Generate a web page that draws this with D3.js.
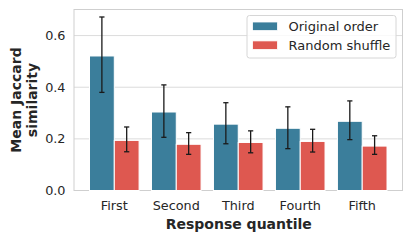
<!DOCTYPE html>
<html>
<head>
<meta charset="utf-8">
<script src="https://cdn.jsdelivr.net/npm/d3@7"></script>
<style>
  body { margin: 0; background: #fff; }
  text { font-family: "DejaVu Sans", sans-serif; fill: #262626; }
</style>
</head>
<body>
<svg id="chart" width="412" height="241"></svg>
<script>
// data
const quantiles = ['First', 'Second', 'Third', 'Fourth', 'Fifth'];
const seriesNames = ['Original order', 'Random shuffle'];
const originalMean = [0.521, 0.304, 0.257, 0.241, 0.268];
const originalLow = [0.380, 0.206, 0.181, 0.162, 0.197];
const originalHigh = [0.672, 0.409, 0.340, 0.324, 0.347];
const shuffleMean = [0.194, 0.179, 0.186, 0.190, 0.172];
const shuffleLow = [0.150, 0.140, 0.146, 0.149, 0.140];
const shuffleHigh = [0.246, 0.224, 0.231, 0.237, 0.212];
const yTicks = [0.0, 0.2, 0.4, 0.6];

const colors = ['#3b7e9b', '#de5850'];

const svg = d3.select('#chart');
const plotLeft = 74, plotRight = 402.5, plotTop = 9.5, plotBottom = 190.5;
const tickFont = 12.8, labelFont = 14;

// x: seaborn-like positions with some padding on each side
const xPos = d3.scaleLinear().domain([-0.65, quantiles.length - 0.35]).range([plotLeft, plotRight]);
const y = d3.scaleLinear().domain([0, 0.701]).range([plotBottom, plotTop]);
const bandW = xPos(1) - xPos(0);
const barW = bandW * 0.8 / 2;

// grid
svg.append('g')
  .selectAll('line')
  .data(yTicks)
  .join('line')
  .attr('x1', plotLeft).attr('x2', plotRight)
  .attr('y1', d => y(d)).attr('y2', d => y(d))
  .attr('stroke', '#dcdcdc').attr('stroke-width', 1);

// frame
svg.append('rect')
  .attr('x', plotLeft).attr('y', plotTop)
  .attr('width', plotRight - plotLeft).attr('height', plotBottom - plotTop)
  .attr('fill', 'none').attr('stroke', '#cfcfcf').attr('stroke-width', 1);

// y tick labels
svg.append('g')
  .selectAll('text')
  .data(yTicks)
  .join('text')
  .attr('x', plotLeft - 8.5)
  .attr('y', d => y(d))
  .attr('dy', '0.36em')
  .attr('text-anchor', 'end')
  .attr('font-size', tickFont)
  .text(d => d3.format('.1f')(d));

// x tick labels
svg.append('g')
  .selectAll('text')
  .data(quantiles)
  .join('text')
  .attr('x', (d, i) => xPos(i))
  .attr('y', 210)
  .attr('text-anchor', 'middle')
  .attr('font-size', tickFont)
  .text(d => d);

// bars
const series = [
  { mean: originalMean, low: originalLow, high: originalHigh },
  { mean: shuffleMean, low: shuffleLow, high: shuffleHigh }
];

series.forEach((s, k) => {
  const offset = (k - 1) * barW;
  const g = svg.append('g');
  g.selectAll('rect')
    .data(s.mean)
    .join('rect')
    .attr('x', (d, i) => xPos(i) + offset)
    .attr('y', d => y(d))
    .attr('width', barW)
    .attr('height', d => y(0) - y(d))
    .attr('fill', colors[k])
    .attr('stroke', '#fff')
    .attr('stroke-width', 1);

  // error bars
  const cx = i => xPos(i) + offset + barW / 2;
  const eb = g.selectAll('g.err')
    .data(s.mean.map((d, i) => i))
    .join('g').attr('class', 'err');
  eb.append('line')
    .attr('x1', cx).attr('x2', cx)
    .attr('y1', i => y(s.low[i])).attr('y2', i => y(s.high[i]))
    .attr('stroke', '#1a1a1a').attr('stroke-width', 1.3);
  [s.low, s.high].forEach(arr => {
    eb.append('line')
      .attr('x1', i => cx(i) - 2.6).attr('x2', i => cx(i) + 2.6)
      .attr('y1', i => y(arr[i])).attr('y2', i => y(arr[i]))
      .attr('stroke', '#1a1a1a').attr('stroke-width', 1.3);
  });
});

// legend
const legend = svg.append('g');
legend.append('rect')
  .attr('x', 247).attr('y', 15.5)
  .attr('width', 149).attr('height', 42.5)
  .attr('rx', 2.5)
  .attr('fill', '#fff').attr('fill-opacity', 0.8)
  .attr('stroke', '#d6d6d6').attr('stroke-width', 1);
seriesNames.forEach((name, k) => {
  const cy = 26.3 + k * 18.9;
  legend.append('rect')
    .attr('x', 252.5).attr('y', cy - 4.3)
    .attr('width', 25).attr('height', 8.6)
    .attr('fill', colors[k]).attr('stroke', '#fff').attr('stroke-width', 0.8);
  legend.append('text')
    .attr('x', 288.5).attr('y', cy)
    .attr('dy', '0.36em')
    .attr('font-size', 13)
    .text(name);
});

// axis labels
svg.append('text')
  .attr('x', (plotLeft + plotRight) / 2 + 0.5).attr('y', 228.5)
  .attr('text-anchor', 'middle')
  .attr('font-size', labelFont).attr('font-weight', 'bold')
  .text('Response quantile');

const yl = svg.append('text')
  .attr('transform', `translate(0, ${(plotTop + plotBottom) / 2}) rotate(-90)`)
  .attr('text-anchor', 'middle')
  .attr('font-size', labelFont).attr('font-weight', 'bold');
yl.append('tspan').attr('x', 0).attr('y', 20.8).text('Mean Jaccard');
yl.append('tspan').attr('x', 0).attr('y', 37.4).text('similarity');
</script>
</body>
</html>
